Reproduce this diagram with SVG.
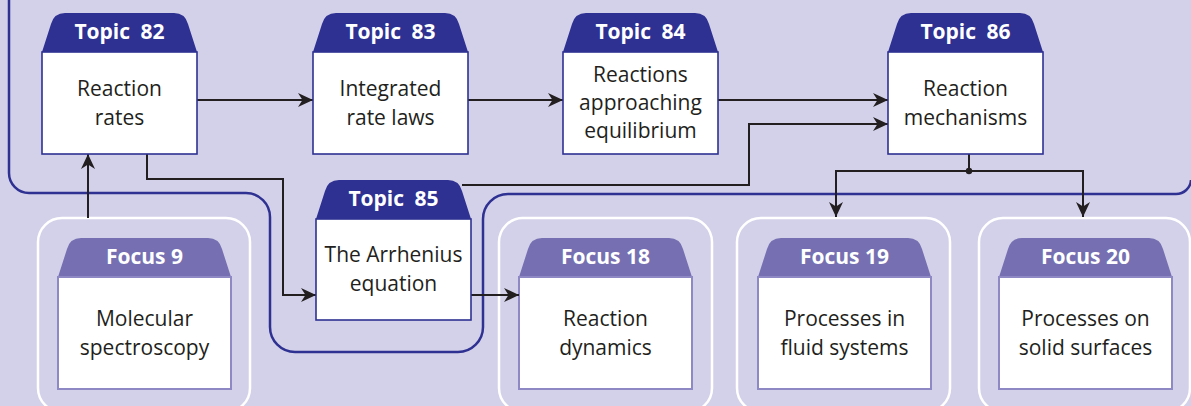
<svg xmlns="http://www.w3.org/2000/svg" width="1191" height="406" viewBox="0 0 1191 406">
  <defs>
    <style>
      .bg { fill: #d3d1e9; }
      .frame { fill: none; stroke: #2e3192; stroke-width: 2.5; }
      .outer { fill: none; stroke: #ffffff; stroke-width: 2.5; }
      .topic-tab { fill: #2e3192; }
      .topic-box { fill: #ffffff; stroke: #2e3192; stroke-width: 1.6; }
      .focus-tab { fill: #7670b2; }
      .focus-box { fill: #ffffff; stroke: #8e89c4; stroke-width: 2; }
      .head { font-family: "Open Sans", "Liberation Sans", sans-serif; font-weight: 700; font-size: 21px; fill: #ffffff; text-anchor: middle; }
      .topic-head { word-spacing: 5px; }
      .body { font-family: "Open Sans", "Liberation Sans", sans-serif; font-size: 21px; fill: #231f20; text-anchor: middle; }
      .link { fill: none; stroke: #231f20; stroke-width: 2; }
    </style>
    <marker id="arrow" markerUnits="userSpaceOnUse" viewBox="-15 -8 16 16" markerWidth="16" markerHeight="16" refX="0" refY="0" orient="auto">
      <path d="M0,0 L-15,-7 L-10.5,0 L-15,7 Z" fill="#231f20"/>
    </marker>
    <!-- header tab shapes -->
    <path id="tab155" d="M0,39 L9,11 Q12,0 23,0 H132 Q143,0 146,11 L155,39 Z"/>
    <path id="tab173" d="M0,39 L9,11 Q12,0 23,0 H150 Q161,0 164,11 L173,39 Z"/>
  </defs>

  <rect class="bg" x="0" y="0" width="1191" height="406"/>

  <!-- boundary of the topic region -->
  <path class="frame" d="M9,-5 V173 A20,20 0 0 0 29,193 H246 A24,24 0 0 1 270,217 V327 A25,25 0 0 0 295,352 H458 A25,25 0 0 0 483,327 V219 A25,25 0 0 1 508,194 H1176 A15,15 0 0 0 1191,180"/>

  <!-- focus frames -->
  <g id="focus9">
    <rect class="outer" x="38" y="218" width="212" height="194" rx="24"/>
    <use href="#tab173" class="focus-tab" x="58" y="238"/>
    <rect class="focus-box" x="58" y="277" width="173" height="112"/>
    <text class="head" x="144.5" y="264">Focus 9</text>
    <text class="body" x="144.5" y="326">Molecular</text>
    <text class="body" x="144.5" y="355">spectroscopy</text>
  </g>
  <g id="focus18">
    <rect class="outer" x="499" y="218" width="213" height="194" rx="24"/>
    <use href="#tab173" class="focus-tab" x="519" y="238"/>
    <rect class="focus-box" x="519" y="277" width="173" height="112"/>
    <text class="head" x="605.5" y="264">Focus 18</text>
    <text class="body" x="605.5" y="326">Reaction</text>
    <text class="body" x="605.5" y="355">dynamics</text>
  </g>
  <g id="focus19">
    <rect class="outer" x="737" y="218" width="213" height="194" rx="24"/>
    <use href="#tab173" class="focus-tab" x="758" y="238"/>
    <rect class="focus-box" x="758" y="277" width="173" height="112"/>
    <text class="head" x="844.5" y="264">Focus 19</text>
    <text class="body" x="844.5" y="326">Processes in</text>
    <text class="body" x="844.5" y="355">fluid systems</text>
  </g>
  <g id="focus20">
    <rect class="outer" x="979" y="218" width="211" height="194" rx="24"/>
    <use href="#tab173" class="focus-tab" x="999" y="238"/>
    <rect class="focus-box" x="999" y="277" width="173" height="112"/>
    <text class="head" x="1085.5" y="264">Focus 20</text>
    <text class="body" x="1085.5" y="326">Processes on</text>
    <text class="body" x="1085.5" y="355">solid surfaces</text>
  </g>

  <!-- connectors -->
  <g id="connectors">
    <path class="link" d="M197,100 H313" marker-end="url(#arrow)"/>
    <path class="link" d="M468,100 H563" marker-end="url(#arrow)"/>
    <path class="link" d="M718,100 H888" marker-end="url(#arrow)"/>
    <path class="link" d="M462,185 H749 V124 H888" marker-end="url(#arrow)"/>
    <path class="link" d="M147,154 V179 H283 V295 H316" marker-end="url(#arrow)"/>
    <path class="link" d="M471,295 H519" marker-end="url(#arrow)"/>
    <path class="link" d="M88,218 V154" marker-end="url(#arrow)"/>
    <path class="link" d="M969,154 V171"/>
    <path class="link" d="M969,171 H836 V217" marker-end="url(#arrow)"/>
    <path class="link" d="M969,171 H1083 V217" marker-end="url(#arrow)"/>
    <circle cx="969" cy="171" r="3.2" fill="#231f20"/>
  </g>

  <!-- topics -->
  <g id="topic82">
    <use href="#tab155" class="topic-tab" x="42" y="13"/>
    <rect class="topic-box" x="42" y="52" width="155" height="102"/>
    <text class="head topic-head" x="119.5" y="39">Topic 82</text>
    <text class="body" x="119.5" y="96">Reaction</text>
    <text class="body" x="119.5" y="125">rates</text>
  </g>
  <g id="topic83">
    <use href="#tab155" class="topic-tab" x="313" y="13"/>
    <rect class="topic-box" x="313" y="52" width="155" height="102"/>
    <text class="head topic-head" x="390.5" y="39">Topic 83</text>
    <text class="body" x="390.5" y="96">Integrated</text>
    <text class="body" x="390.5" y="125">rate laws</text>
  </g>
  <g id="topic84">
    <use href="#tab155" class="topic-tab" x="563" y="13"/>
    <rect class="topic-box" x="563" y="52" width="155" height="102"/>
    <text class="head topic-head" x="640.5" y="39">Topic 84</text>
    <text class="body" x="640.5" y="82">Reactions</text>
    <text class="body" x="640.5" y="110">approaching</text>
    <text class="body" x="640.5" y="138">equilibrium</text>
  </g>
  <g id="topic86">
    <use href="#tab155" class="topic-tab" x="888" y="13"/>
    <rect class="topic-box" x="888" y="52" width="155" height="102"/>
    <text class="head topic-head" x="965.5" y="39">Topic 86</text>
    <text class="body" x="965.5" y="96">Reaction</text>
    <text class="body" x="965.5" y="125">mechanisms</text>
  </g>
  <g id="topic85">
    <use href="#tab155" class="topic-tab" x="316" y="180"/>
    <rect class="topic-box" x="316" y="219" width="155" height="101"/>
    <text class="head topic-head" x="393.5" y="206">Topic 85</text>
    <text class="body" x="393.5" y="262">The Arrhenius</text>
    <text class="body" x="393.5" y="291">equation</text>
  </g>
</svg>
